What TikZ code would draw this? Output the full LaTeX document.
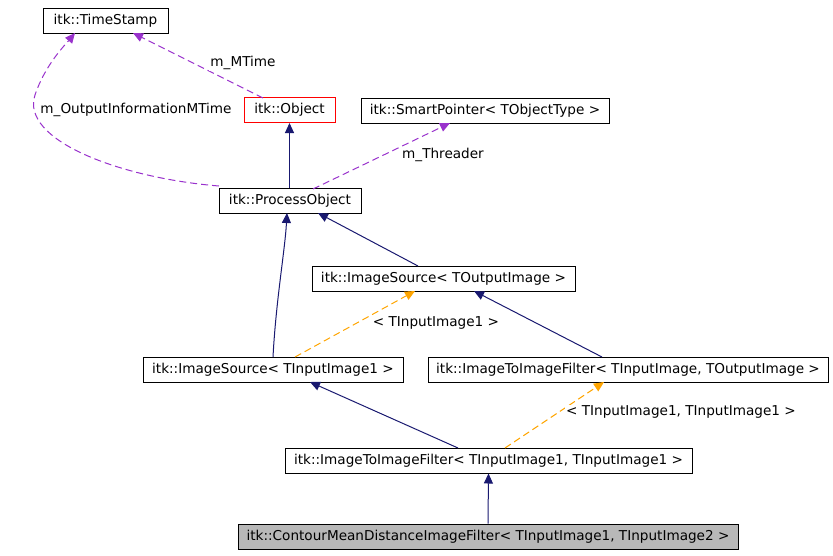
\documentclass[tikz,border=0pt]{standalone}
\usepackage{fontspec}
\setmainfont{DejaVu Sans}
\usetikzlibrary{arrows.meta}
\definecolor{navy}{RGB}{25,25,112}
\definecolor{purp}{RGB}{153,50,204}
\definecolor{orng}{RGB}{255,165,0}
\begin{document}
\begin{tikzpicture}[x=1pt,y=-1pt,line width=1pt,
 box/.style={draw,inner sep=0pt,font=\fontsize{13.6}{15}\selectfont,minimum height=25pt},
 lbl/.style={font=\fontsize{13.6}{15}\selectfont,fill=white,inner sep=1pt},
 inh/.style={draw=navy,-{Triangle[width=9pt,length=10pt,fill=navy]}},
 mem/.style={draw=purp,dashed,dash pattern=on 7pt off 4pt,-{Triangle[width=9pt,length=10pt,fill=purp]}},
 tmpl/.style={draw=orng,dashed,dash pattern=on 7pt off 4pt,-{Triangle[width=9pt,length=10pt,fill=orng]}}]
\useasboundingbox (0,0) rectangle (833,555);
\node[box,minimum width=125pt] (ts) at (105.5,21) {itk::TimeStamp};
\node[box,minimum width=91pt,draw=red] (obj) at (289.5,110) {itk::Object};
\node[box,minimum width=248pt] (sp) at (485,110.5) {itk::SmartPointer< TObjectType >};
\node[box,minimum width=142pt] (po) at (290,201) {itk::ProcessObject};
\node[box,minimum width=263pt] (iso) at (443.5,278.5) {itk::ImageSource< TOutputImage >};
\node[box,minimum width=260pt] (isi) at (273,369.5) {itk::ImageSource< TInputImage1 >};
\node[box,minimum width=400pt] (itio) at (628,369.5) {itk::ImageToImageFilter< TInputImage, TOutputImage >};
\node[box,minimum width=407pt] (itii) at (488.5,460.5) {itk::ImageToImageFilter< TInputImage1, TInputImage1 >};
\node[box,minimum width=500pt,fill=black!28] (cm) at (488,536.5) {itk::ContourMeanDistanceImageFilter< TInputImage1, TInputImage2 >};
\coordinate (a1) at (263,98); \coordinate (a2) at (133,33);
\draw[mem] (a1) -- (a2);
\node[lbl] (l1) at (243,63) {m\_MTime};
\coordinate (b1) at (219,186); \coordinate (b2) at (75,33);
\draw[mem] (b1) .. controls (120,178) and (20,140) .. (35,95) .. controls (45,65) and (65,45) .. (b2);
\node[lbl] (l2) at (136,110) {m\_OutputInformationMTime};
\coordinate (c1) at (313,189); \coordinate (c2) at (450,123);
\draw[mem] (c1) -- (c2);
\node[lbl] (l3) at (443,155) {m\_Threader};
\draw[inh] (po.north -| obj) -- (obj.south);
\draw[inh] (418,266) -- (318,213);
\draw[inh] (273,357) .. controls (276,300) and (285,250) .. (287,213);
\draw[inh] (602,357) -- (474,291);
\draw[inh] (458,448) -- (310,382);
\draw[inh] (cm.north) -- (itii.south);
\draw[tmpl] (295,357) -- (415,291);
\node[lbl] (l4) at (436,323) {< TInputImage1 >};
\draw[tmpl] (505,448) -- (604,382);
\node[lbl] (l5) at (681,412) {< TInputImage1, TInputImage1 >};
\end{tikzpicture}
\end{document}
